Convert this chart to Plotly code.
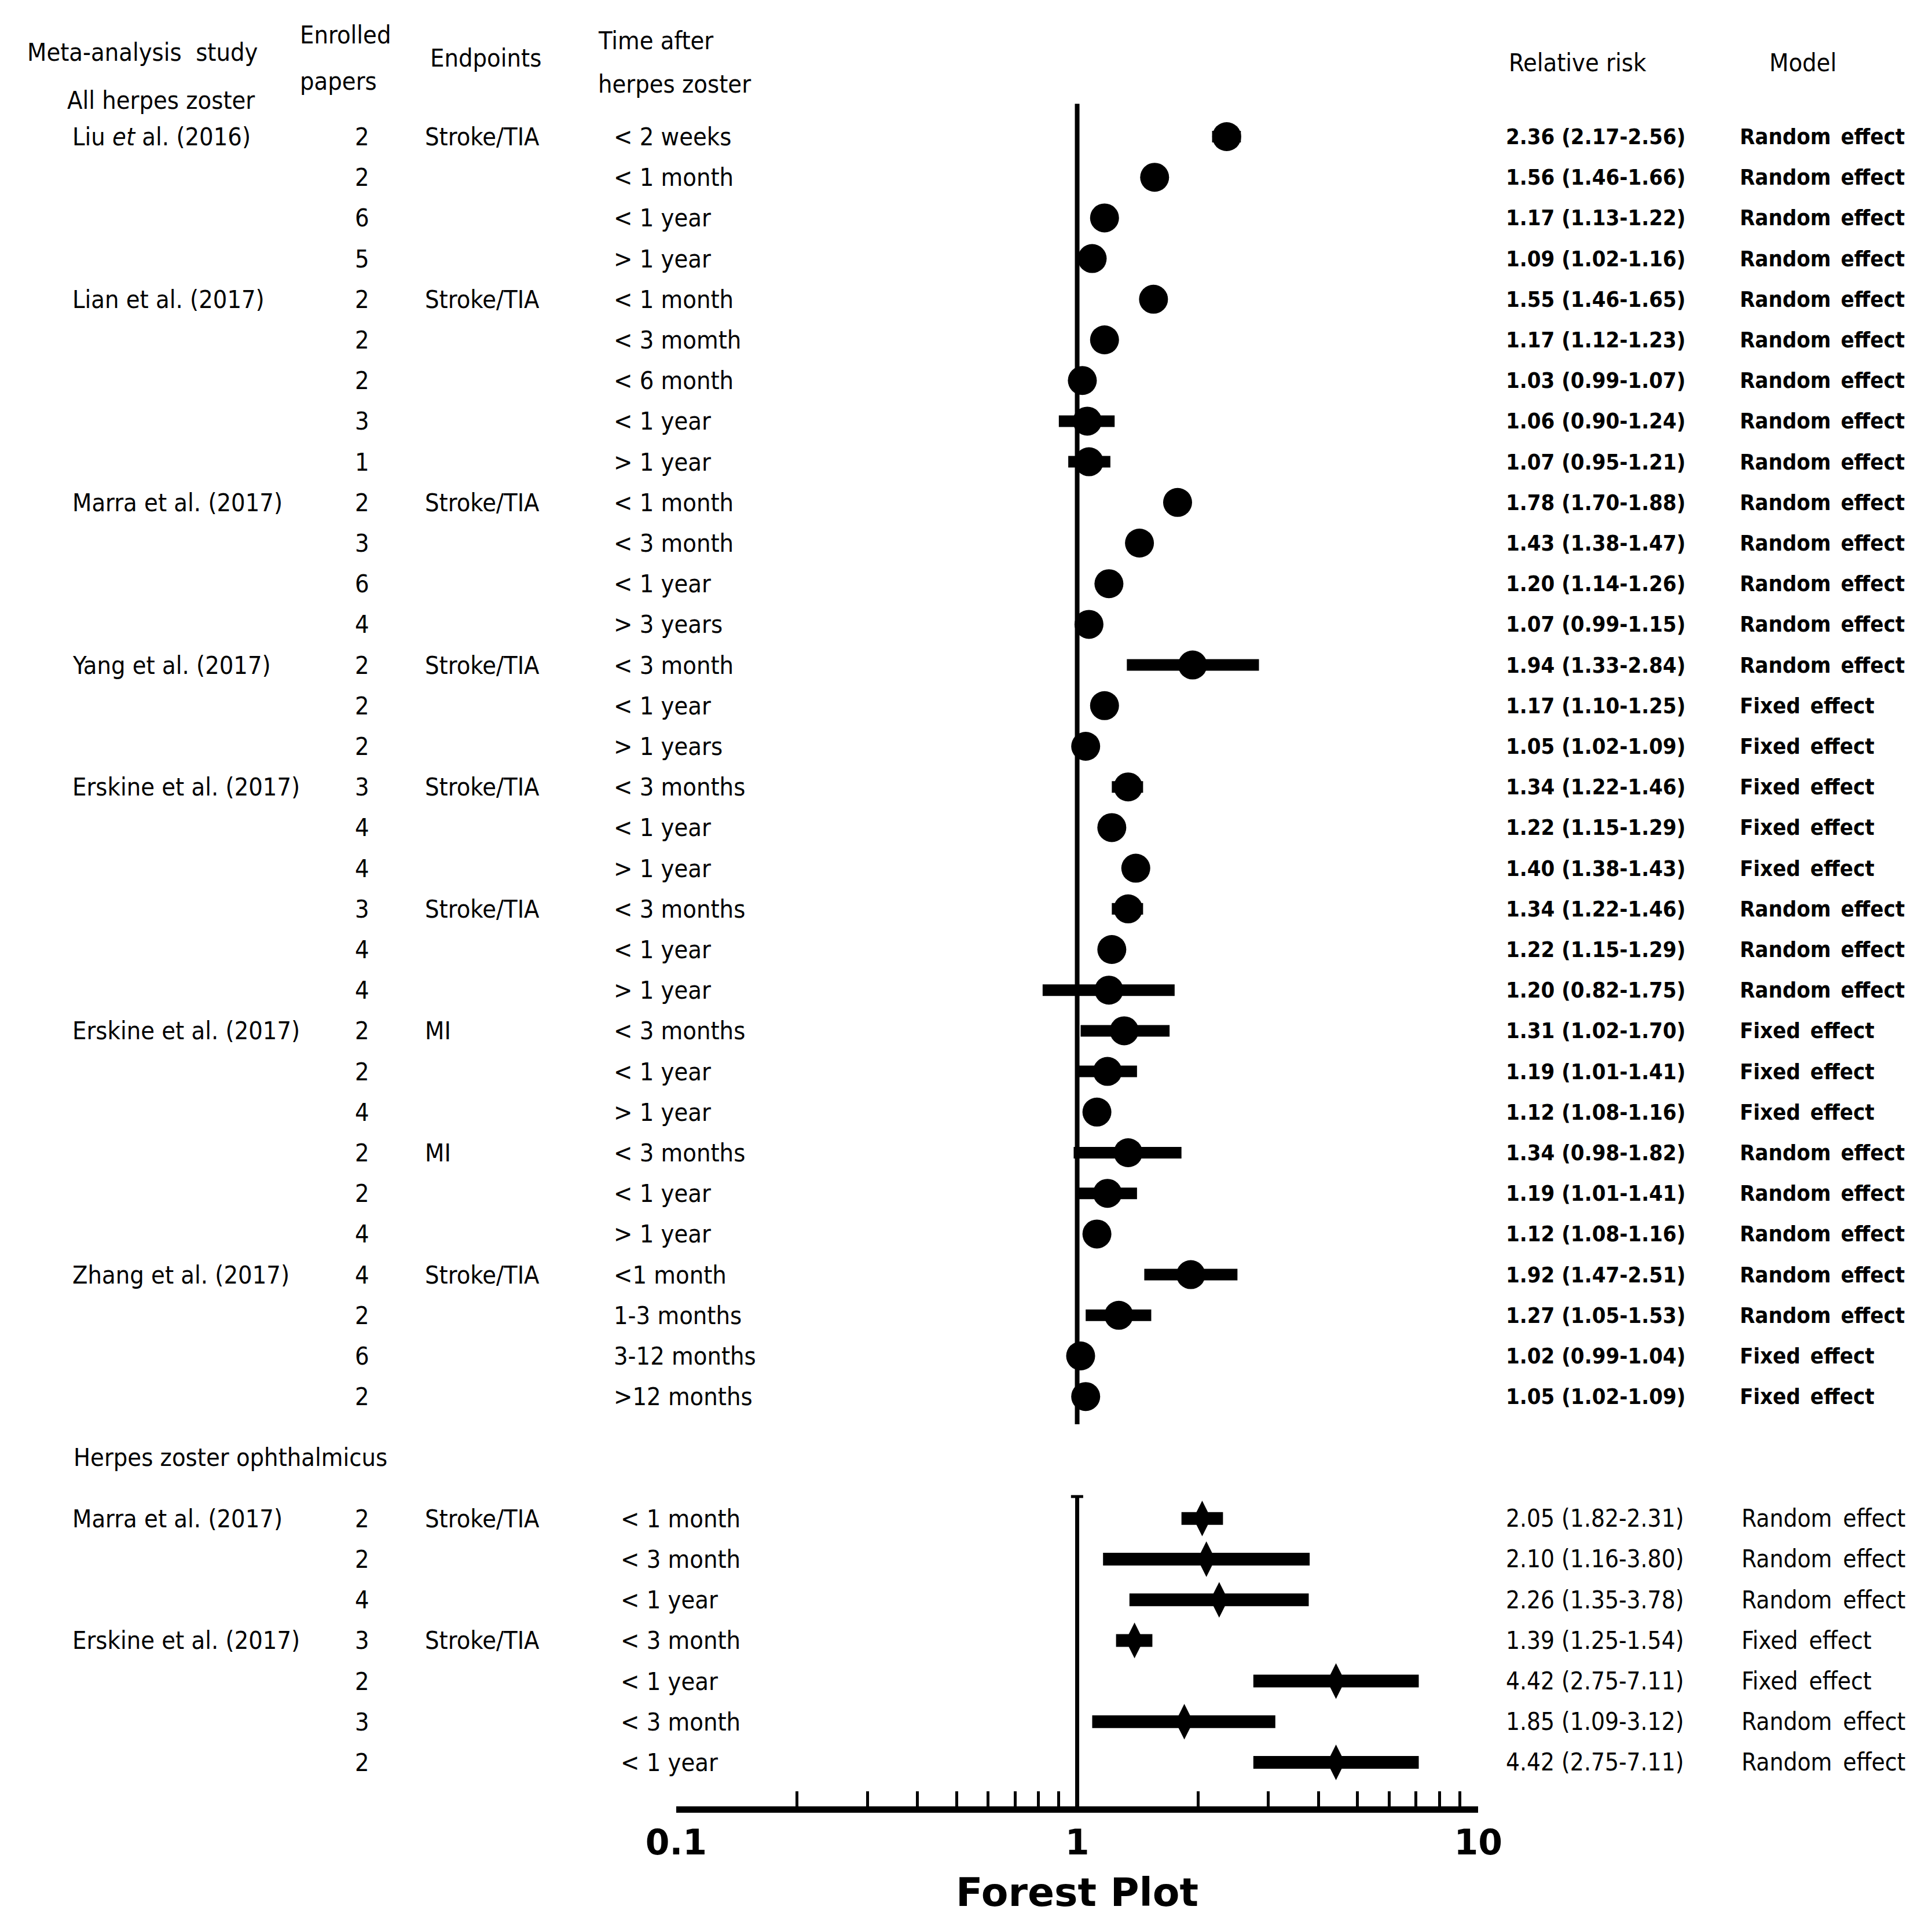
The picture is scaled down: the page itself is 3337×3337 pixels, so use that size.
import plotly.graph_objects as go

# ---------------- data ----------------
# all herpes zoster
study1 = ["Liu <i>et</i> al. (2016)", "", "", "",
          "Lian et al. (2017)", "", "", "", "",
          "Marra et al. (2017)", "", "", "",
          "Yang et al. (2017)", "", "",
          "Erskine et al. (2017)", "", "", "", "", "",
          "Erskine et al. (2017)", "", "", "", "", "",
          "Zhang et al. (2017)", "", "", ""]
papers1 = [2, 2, 6, 5, 2, 2, 2, 3, 1, 2, 3, 6, 4, 2, 2, 2,
           3, 4, 4, 3, 4, 4, 2, 2, 4, 2, 2, 4, 4, 2, 6, 2]
endpoint1 = ["Stroke/TIA", "", "", "",
             "Stroke/TIA", "", "", "", "",
             "Stroke/TIA", "", "", "",
             "Stroke/TIA", "", "",
             "Stroke/TIA", "", "", "Stroke/TIA", "", "",
             "MI", "", "", "MI", "", "",
             "Stroke/TIA", "", "", ""]
time1 = ["< 2 weeks", "< 1 month", "< 1 year", "> 1 year",
         "< 1 month", "< 3 momth", "< 6 month", "< 1 year", "> 1 year",
         "< 1 month", "< 3 month", "< 1 year", "> 3 years",
         "< 3 month", "< 1 year", "> 1 years",
         "< 3 months", "< 1 year", "> 1 year", "< 3 months", "< 1 year", "> 1 year",
         "< 3 months", "< 1 year", "> 1 year", "< 3 months", "< 1 year", "> 1 year",
         "<1 month", "1-3 months", "3-12 months", ">12 months"]
rr1 = [2.36, 1.56, 1.17, 1.09, 1.55, 1.17, 1.03, 1.06, 1.07, 1.78, 1.43, 1.20, 1.07,
       1.94, 1.17, 1.05, 1.34, 1.22, 1.40, 1.34, 1.22, 1.20, 1.31, 1.19, 1.12,
       1.34, 1.19, 1.12, 1.92, 1.27, 1.02, 1.05]
lo1 = [2.17, 1.46, 1.13, 1.02, 1.46, 1.12, 0.99, 0.90, 0.95, 1.70, 1.38, 1.14, 0.99,
       1.33, 1.10, 1.02, 1.22, 1.15, 1.38, 1.22, 1.15, 0.82, 1.02, 1.01, 1.08,
       0.98, 1.01, 1.08, 1.47, 1.05, 0.99, 1.02]
hi1 = [2.56, 1.66, 1.22, 1.16, 1.65, 1.23, 1.07, 1.24, 1.21, 1.88, 1.47, 1.26, 1.15,
       2.84, 1.25, 1.09, 1.46, 1.29, 1.43, 1.46, 1.29, 1.75, 1.70, 1.41, 1.16,
       1.82, 1.41, 1.16, 2.51, 1.53, 1.04, 1.09]
model1 = ["Random effect"] * 14 + ["Fixed effect"] * 5 + ["Random effect"] * 3 + \
         ["Fixed effect"] * 3 + ["Random effect"] * 5 + ["Fixed effect"] * 2

# herpes zoster ophthalmicus
study2 = ["Marra et al. (2017)", "", "", "Erskine et al. (2017)", "", "", ""]
papers2 = [2, 2, 4, 3, 2, 3, 2]
endpoint2 = ["Stroke/TIA", "", "", "Stroke/TIA", "", "", ""]
time2 = ["< 1 month", "< 3 month", "< 1 year", "< 3 month", "< 1 year", "< 3 month", "< 1 year"]
rr2 = [2.05, 2.10, 2.26, 1.39, 4.42, 1.85, 4.42]
lo2 = [1.82, 1.16, 1.35, 1.25, 2.75, 1.09, 2.75]
hi2 = [2.31, 3.80, 3.78, 1.54, 7.11, 3.12, 7.11]
model2 = ["Random effect"] * 3 + ["Fixed effect"] * 2 + ["Random effect"] * 2

tick_vals = [0.1, 0.2, 0.3, 0.4, 0.5, 0.6, 0.7, 0.8, 0.9,
             1, 2, 3, 4, 5, 6, 7, 8, 9, 10]
tick_text = ["0.1", "", "", "", "", "", "", "", "", "1", "", "", "", "", "", "", "", "", "10"]

# ---------------- layout helpers ----------------
rows1 = list(range(len(rr1)))
rows2 = [len(rr1) + 2 + i for i in range(len(rr2))]

# y axis in "row" units (row 0 = first study line)
Y_TOP, Y_BOT = -3.248, 44.288
AXIS_ROW = 41.15

NARROW = "DejaVu Sans Condensed, Liberation Sans Narrow, Liberation Sans, sans-serif"
BOLD = "DejaVu Sans, Liberation Sans, sans-serif"

fig = go.Figure()


def txt(x, y, s, size=43, family=NARROW, anchor="left", weight="normal"):
    fig.add_annotation(x=x, y=y, xref="paper", yref="y", text=s, showarrow=False,
                       xanchor=anchor, yanchor="middle",
                       font=dict(family=family, size=size, color="black", weight=weight))


def add_section(study, papers, endpoint, times, rr, lo, hi, model, rows,
                x_time, x_model, rsize, rweight, thick, symbol, msize):
    fig.add_trace(go.Scatter(
        x=rr, y=rows, mode="markers",
        marker=dict(size=msize, color="black", symbol=symbol, line_width=0),
        error_x=dict(type="data", symmetric=False,
                     array=[h - r for r, h in zip(rr, hi)],
                     arrayminus=[r - l for r, l in zip(rr, lo)],
                     thickness=thick, width=0, color="black"),
        hoverinfo="skip", showlegend=False))
    for i, y in enumerate(rows):
        if study[i]:
            txt(0.0345, y, study[i])
        txt(0.1849, y, str(papers[i]), anchor="center")
        if endpoint[i]:
            txt(0.2170, y, endpoint[i])
        txt(x_time, y, times[i])
        txt(0.7764, y, f"{rr[i]:.2f} ({lo[i]:.2f}-{hi[i]:.2f})", size=rsize, weight=rweight)
        txt(x_model, y, model[i].replace(" ", "\u2002"), size=rsize, weight=rweight)


add_section(study1, papers1, endpoint1, time1, rr1, lo1, hi1, model1, rows1,
            0.3147, 0.8975, 38, "bold", 20, "circle", 50)
add_section(study2, papers2, endpoint2, time2, rr2, lo2, hi2, model2, rows2,
            0.3183, 0.8984, 42, "normal", 22, "diamond-tall", 44)

# headers
txt(0.0111, -2.08, "Meta-analysis  study")
txt(0.0318, -0.90, "All herpes zoster")
txt(0.1522, -2.51, "Enrolled")
txt(0.1522, -1.37, "papers")
txt(0.2197, -1.94, "Endpoints")
txt(0.3066, -2.36, "Time after")
txt(0.3066, -1.30, "herpes zoster")
txt(0.7779, -1.82, "Relative risk")
txt(0.9128, -1.82, "Model")
txt(0.0351, 32.49, "Herpes zoster ophthalmicus")

# reference line at RR = 1
fig.add_shape(type="line", xref="x", yref="y", x0=1, x1=1, y0=-0.81, y1=31.68,
              line=dict(color="black", width=8), layer="below")
fig.add_shape(type="line", xref="x", yref="y", x0=1, x1=1, y0=33.46, y1=AXIS_ROW,
              line=dict(color="black", width=7), layer="below")
fig.add_shape(type="line", xref="x", yref="y", x0=0.965, x1=1.035, y0=33.46, y1=33.46,
              line=dict(color="black", width=5), layer="below")

# axis title
fig.add_annotation(x=0, y=43.2, xref="x", yref="y", text="Forest Plot", showarrow=False,
                   xanchor="center", yanchor="middle",
                   font=dict(family=BOLD, size=68, color="black", weight="bold"))

fig.update_layout(
    width=3337, height=3337,
    margin=dict(l=0, r=0, t=0, b=0, autoexpand=False),
    paper_bgcolor="white", plot_bgcolor="white",
    showlegend=False,
    xaxis=dict(type="log", range=[-1, 1], domain=[0.3476, 0.7627],
               anchor="free", position=(Y_BOT - AXIS_ROW) / (Y_BOT - Y_TOP),
               automargin=False,
               showgrid=False, zeroline=False,
               showline=True, linecolor="black", linewidth=11,
               ticks="inside", ticklen=26, tickwidth=5, tickcolor="black",
               tickvals=tick_vals, ticktext=tick_text,
               tickfont=dict(family=BOLD, size=60, color="black", weight="bold")),
    yaxis=dict(range=[Y_BOT, Y_TOP], domain=[0, 1], visible=False,
               fixedrange=True, automargin=False),
)

fig.write_html("out.html")
